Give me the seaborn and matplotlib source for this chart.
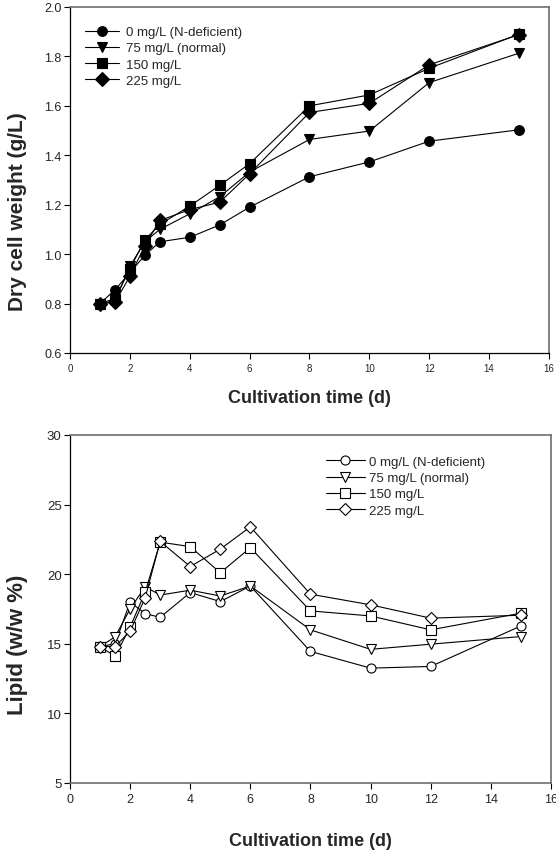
import seaborn as sns
import matplotlib.pyplot as plt
import pandas as pd

days = [1, 1.5, 2, 2.5, 3, 4, 5, 6, 8, 10, 12, 15]
groups = ['0 mg/L (N-deficient)', '75 mg/L (normal)', '150 mg/L', '225 mg/L']

# dry cell weight (g/L)
dcw_0 = [0.80, 0.855, 0.925, 0.995, 1.05, 1.068, 1.118, 1.19, 1.313, 1.373, 1.457, 1.503]
dcw_75 = [0.80, 0.81, 0.95, 1.05, 1.10, 1.163, 1.232, 1.332, 1.464, 1.498, 1.694, 1.813]
dcw_150 = [0.80, 0.82, 0.94, 1.058, 1.12, 1.194, 1.278, 1.366, 1.60, 1.644, 1.752, 1.89]
dcw_225 = [0.80, 0.805, 0.91, 1.034, 1.136, 1.18, 1.21, 1.325, 1.573, 1.61, 1.766, 1.888]

# lipid content (w/w %)
lip_0 = [14.8, 15.0, 18.0, 17.16, 16.9, 18.68, 18.03, 19.15, 14.45, 13.25, 13.37, 16.28]
lip_75 = [14.8, 15.5, 17.5, 19.1, 18.5, 18.85, 18.43, 19.15, 16.0, 14.6, 14.97, 15.52]
lip_150 = [14.8, 14.1, 16.2, 18.7, 22.3, 21.98, 20.1, 21.9, 17.36, 17.0, 16.0, 17.2]
lip_225 = [14.8, 14.8, 15.9, 18.3, 22.35, 20.55, 21.8, 23.4, 18.56, 17.8, 16.84, 17.05]

x_ticks = [0, 2, 4, 6, 8, 10, 12, 14, 16]
dcw_ticks = [0.6, 0.8, 1.0, 1.2, 1.4, 1.6, 1.8, 2.0]
lip_ticks = [5, 10, 15, 20, 25, 30]


def long_df(series):
    rows = {'day': [], 'value': [], 'group': []}
    for g, vals in zip(groups, series):
        rows['day'] += days
        rows['value'] += vals
        rows['group'] += [g] * len(days)
    df = pd.DataFrame(rows)
    df['group'] = pd.Categorical(df['group'], categories=groups, ordered=True)
    return df


sns.set_style('ticks')
plt.rcParams['font.family'] = ['Liberation Sans', 'DejaVu Sans']

fig = plt.figure(figsize=(5.56, 8.54), dpi=100)
ax1 = fig.add_axes([0.1259, 0.5855, 0.8615, 0.4052])
ax2 = fig.add_axes([0.1259, 0.082, 0.865, 0.4075])

markers = ['o', 'v', 's', 'D']
black = ['black'] * 4

df1 = long_df([dcw_0, dcw_75, dcw_150, dcw_225])
sns.lineplot(data=df1, x='day', y='value', hue='group', style='group', markers=markers,
             dashes=False, palette=black, errorbar=None, legend=False, ax=ax1,
             lw=0.8, markersize=7, mec='black', mew=0.8)

df2 = long_df([lip_0, lip_75, lip_150, lip_225])
sns.lineplot(data=df2, x='day', y='value', hue='group', style='group', markers=markers,
             dashes=False, palette=black, errorbar=None, legend=False, ax=ax2,
             lw=0.8, markersize=6.5, mec='black', mfc='white', mew=0.8)

ax1.set_xlim(0, 16)
ax1.set_ylim(0.6, 2.0)
ax1.set_yticks(dcw_ticks)
ax1.set_yticklabels([f'{t:.1f}' for t in dcw_ticks])
ax2.set_xlim(0, 16)
ax2.set_ylim(5, 30)
ax2.set_yticks(lip_ticks)

for ax in (ax1, ax2):
    ax.set_xticks(x_ticks)
    ax.tick_params(axis='y', length=4, width=0.8, color='black', pad=2)
    ax.tick_params(axis='x', length=4, width=0.8, color='black', pad=3)
    ax.spines['left'].set_color('black')
    ax.spines['left'].set_linewidth(0.9)
    for s in ('top', 'right'):
        ax.spines[s].set_visible(True)
        ax.spines[s].set_color('#6e6e6e')
        ax.spines[s].set_linewidth(1.2)
    ax.set_xlabel('Cultivation time (d)', fontsize=13, fontweight='bold')

ax1.tick_params(axis='x', labelsize=7)
ax1.tick_params(axis='y', labelsize=9)
ax2.tick_params(axis='x', labelsize=9)
ax2.tick_params(axis='y', labelsize=9.5)

ax1.spines['bottom'].set_color('black')
ax1.spines['bottom'].set_linewidth(0.9)
ax2.spines['bottom'].set_color('#6e6e6e')
ax2.spines['bottom'].set_linewidth(1.2)

ax1.set_ylabel('Dry cell weight (g/L)', fontsize=15, fontweight='bold')
ax2.set_ylabel('Lipid (w/w %)', fontsize=16, fontweight='bold')
ax1.xaxis.set_label_coords(0.5, -0.105)
ax2.xaxis.set_label_coords(0.5, -0.14)
ax1.yaxis.set_label_coords(-0.09, 0.41)
ax2.yaxis.set_label_coords(-0.088, 0.40)

ax1.legend(handles=ax1.lines[:4], labels=groups, loc='upper left',
           bbox_to_anchor=(0.031, 0.945), frameon=False, fontsize=9.5,
           handlelength=2.6, handletextpad=0.5, labelspacing=0.3,
           borderpad=0, borderaxespad=0)
ax2.legend(handles=ax2.lines[:4], labels=groups, loc='upper left',
           bbox_to_anchor=(0.533, 0.94), frameon=False, fontsize=9.5,
           handlelength=2.9, handletextpad=0.3, labelspacing=0.3,
           borderpad=0, borderaxespad=0)

plt.savefig('out.png', dpi=100)
plt.close()
